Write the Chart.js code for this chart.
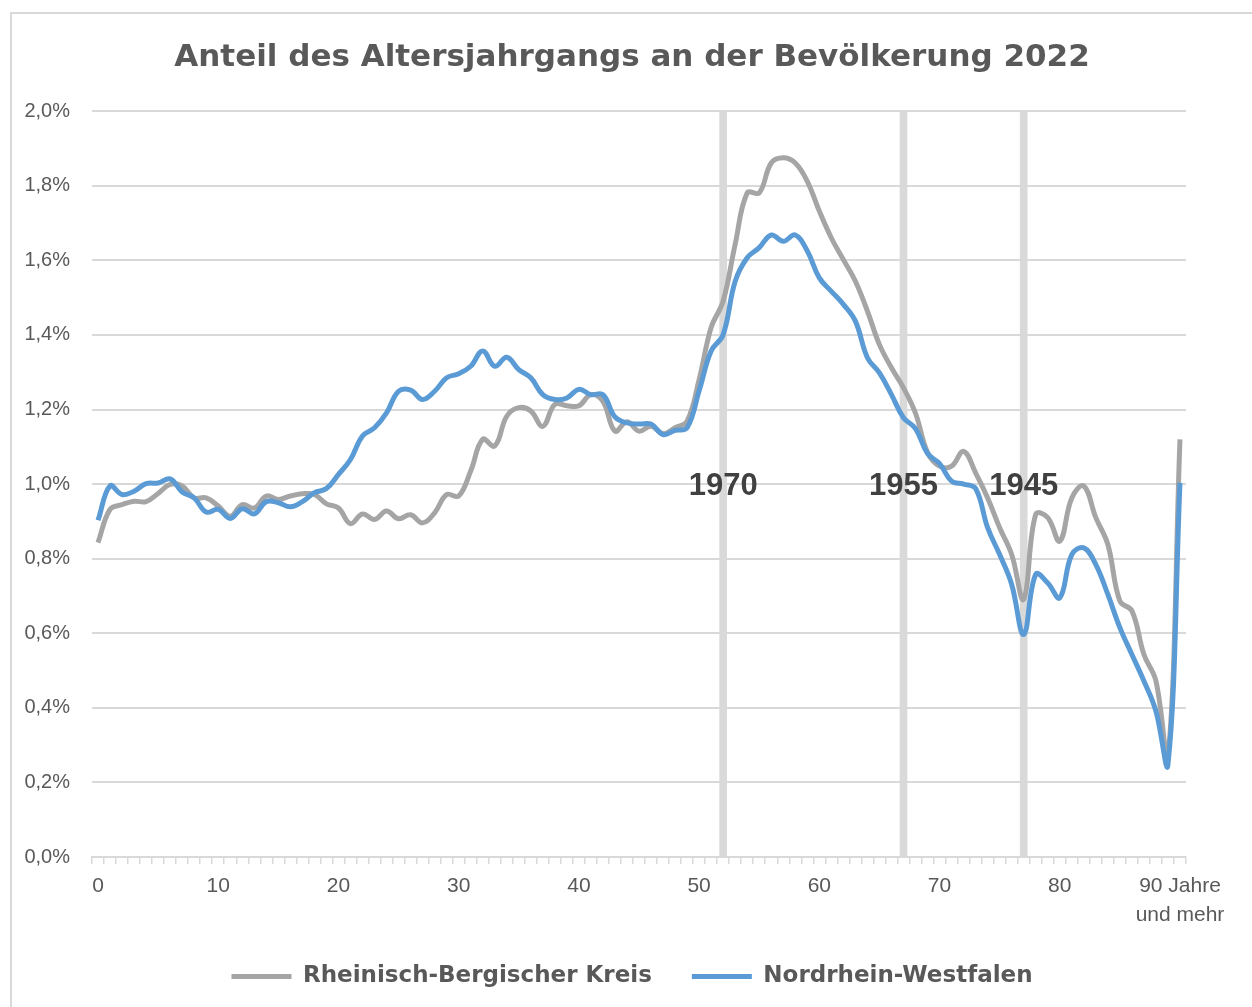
<!DOCTYPE html>
<html lang="de">
<head>
<meta charset="utf-8">
<title>Anteil des Altersjahrgangs an der Bevölkerung 2022</title>
<script src="https://cdn.jsdelivr.net/npm/chart.js@4.4.1/dist/chart.umd.min.js"></script>
<style>
  html, body { margin: 0; padding: 0; background: #fff; overflow: hidden; }
  #frame {
    position: absolute; left: 10px; top: 12px;
    width: 1250px; height: 1000px;
    border: 2px solid #d9d9d9;
  }
  #wrap { position: absolute; left: 0; top: 0; width: 1252px; height: 1007px; }
</style>
</head>
<body>
<div id="frame"></div>
<div id="wrap"><canvas id="chart"></canvas></div>
<script>
// Altersjahre 0..89, dann "90 Jahre und mehr"
const ages = [];
for (let i = 0; i < 90; i++) ages.push(String(i));
ages.push("90 Jahre und mehr");

const lastTickLabel = ["90 Jahre", "und mehr"];
const yTicks = [0, 0.2, 0.4, 0.6, 0.8, 1.0, 1.2, 1.4, 1.6, 1.8, 2.0];

// Anteil in % je Altersjahr
const rheinBerg = [
  0.843, 0.932, 0.945, 0.954, 0.953, 0.975, 0.999, 0.995, 0.963, 0.963,
  0.941, 0.914, 0.945, 0.936, 0.968, 0.959, 0.968, 0.974, 0.972, 0.947,
  0.936, 0.894, 0.920, 0.905, 0.928, 0.907, 0.918, 0.896, 0.923, 0.972,
  0.968, 1.035, 1.120, 1.102, 1.182, 1.205, 1.196, 1.155, 1.214, 1.210,
  1.210, 1.240, 1.222, 1.142, 1.167, 1.142, 1.155, 1.135, 1.151, 1.169,
  1.280, 1.420, 1.491, 1.643, 1.781, 1.781, 1.861, 1.875, 1.861, 1.812,
  1.732, 1.660, 1.602, 1.544, 1.464, 1.374, 1.312, 1.258, 1.190, 1.085,
  1.048, 1.048, 1.088, 1.030, 0.963, 0.883, 0.811, 0.691, 0.919, 0.910,
  0.847, 0.963, 0.995, 0.910, 0.838, 0.686, 0.660, 0.543, 0.472, 0.266,
  1.120,
];

const nrw = [
  0.903, 0.995, 0.972, 0.981, 1.001, 1.003, 1.014, 0.979, 0.963, 0.925,
  0.932, 0.908, 0.934, 0.920, 0.953, 0.950, 0.939, 0.953, 0.977, 0.988,
  1.026, 1.066, 1.129, 1.151, 1.191, 1.249, 1.252, 1.227, 1.249, 1.285,
  1.296, 1.316, 1.357, 1.316, 1.340, 1.307, 1.285, 1.240, 1.227, 1.231,
  1.254, 1.240, 1.240, 1.180, 1.164, 1.161, 1.161, 1.133, 1.144, 1.151,
  1.250, 1.357, 1.401, 1.544, 1.607, 1.634, 1.668, 1.651, 1.668, 1.625,
  1.553, 1.517, 1.482, 1.437, 1.339, 1.298, 1.240, 1.178, 1.149, 1.082,
  1.055, 1.008, 1.000, 0.988, 0.883, 0.811, 0.731, 0.597, 0.758, 0.735,
  0.695, 0.811, 0.829, 0.784, 0.704, 0.615, 0.543, 0.472, 0.391, 0.248,
  1.003,
];

// Geburtsjahrgänge als senkrechte Markierungen
const markerAges = [52, 67, 77];
const markerYears = ["1970", "1955", "1945"];
const markerLabelLevel = 1.0;

const axisFont = "'Liberation Sans', Arial, sans-serif";
const heavy = "'DejaVu Sans', 'Liberation Sans', sans-serif";

const markerBars = ages.map((_, i) => (markerAges.includes(i) ? 2.0 : null));

const yearLabels = {
  id: "yearLabels",
  afterDatasetsDraw(chart) {
    const { ctx, scales } = chart;
    ctx.save();
    ctx.font = "bold 31px 'Liberation Sans', sans-serif";
    ctx.fillStyle = "#404040";
    ctx.textAlign = "center";
    ctx.textBaseline = "middle";
    markerAges.forEach((age, i) => {
      const x = scales.x.getPixelForValue(age);
      const y = scales.y.getPixelForValue(markerLabelLevel);
      ctx.fillText(markerYears[i], x, y + 2);
    });
    ctx.restore();
  },
};

new Chart(document.getElementById("chart"), {
  type: "line",
  data: {
    labels: ages,
    datasets: [
      {
        label: "Rheinisch-Bergischer Kreis",
        data: rheinBerg,
        borderColor: "#a5a5a5",
        borderWidth: 5,
        pointRadius: 0,
        tension: 0.4,
        order: 1,
      },
      {
        label: "Nordrhein-Westfalen",
        data: nrw,
        borderColor: "#5b9bd5",
        borderWidth: 5,
        pointRadius: 0,
        tension: 0.4,
        order: 0,
      },
      {
        type: "bar",
        label: "Jahrgang",
        data: markerBars,
        backgroundColor: "#d9d9d9",
        barThickness: 7,
        order: 5,
      },
    ],
  },
  options: {
    responsive: true,
    maintainAspectRatio: false,
    animation: false,
    layout: { padding: { left: 12, right: 0, top: 0, bottom: 9 } },
    plugins: {
      title: {
        display: true,
        text: "Anteil des Altersjahrgangs an der Bevölkerung 2022",
        color: "#595959",
        font: { family: heavy, size: 31, weight: "bold" },
        padding: { top: 39, bottom: 35 },
      },
      legend: {
        position: "bottom",
        labels: {
          boxWidth: 60,
          boxHeight: 5,
          padding: 40,
          color: "#595959",
          font: { family: heavy, size: 23, weight: "bold" },
          generateLabels: (chart) =>
            chart.data.datasets.slice(0, 2).map((ds, i) => ({
              text: ds.label,
              fillStyle: ds.borderColor,
              strokeStyle: ds.borderColor,
              lineWidth: 0,
              fontColor: "#595959",
              hidden: false,
              datasetIndex: i,
            })),
        },
      },
      tooltip: { enabled: false },
    },
    scales: {
      x: {
        offset: true,
        grid: {
          offset: true,
          drawOnChartArea: false,
          drawTicks: true,
          tickLength: 7,
          color: "#d9d9d9",
          lineWidth: 1.5,
        },
        border: { display: true, color: "#d9d9d9", width: 2 },
        ticks: {
          autoSkip: false,
          maxRotation: 0,
          minRotation: 0,
          padding: 8,
          color: "#595959",
          font: { family: axisFont, size: 21, lineHeight: 1.38 },
          callback: (v, i) => {
            if (i === ages.length - 1) return lastTickLabel;
            return i % 10 === 0 ? ages[i] : "";
          },
        },
        afterFit: (axis) => { axis.height = 68; },
      },
      y: {
        min: 0,
        max: 2.0,
        afterBuildTicks: (axis) => { axis.ticks = yTicks.map((v) => ({ value: v })); },
        grid: { color: "#d9d9d9", lineWidth: 2, drawTicks: false },
        border: { display: false },
        ticks: {
          padding: 22,
          color: "#595959",
          font: { family: axisFont, size: 20 },
          callback: (v) => v.toFixed(1).replace(".", ",") + "%",
        },
        afterFit: (axis) => { axis.width = 80; },
      },
      // leerer Rand rechts, damit Titel und Legende mittig sitzen
      yRight: {
        position: "right",
        min: 0,
        max: 2.0,
        grid: { display: false },
        border: { display: false },
        ticks: { display: false },
        afterFit: (axis) => { axis.width = 66; },
      },
    },
  },
  plugins: [yearLabels],
});
</script>
</body>
</html>
